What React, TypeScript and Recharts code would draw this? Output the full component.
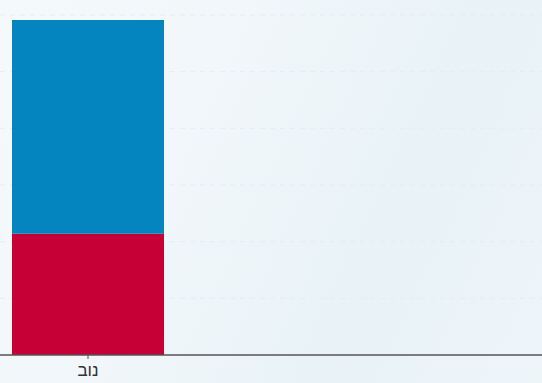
import React from 'react';
import { BarChart, Bar, XAxis, YAxis, CartesianGrid } from 'recharts';

const months = ['נוב'];
const redValues = [21.4];
const blueValues = [37.7];

const data = months.map((m, i) => ({ month: m, red: redValues[i], blue: blueValues[i] }));

export default function App() {
  return (
    <div
      style={{
        position: 'fixed',
        top: 0,
        left: 0,
        width: 542,
        height: 383,
        background: 'linear-gradient(115deg, #f6f9fb 0%, #f1f7fa 35%, #e8f2f7 70%, #eef5f9 100%)',
        fontFamily: '"Liberation Sans", Arial, sans-serif',
      }}
    >
      <BarChart
        width={542}
        height={383}
        data={data}
        margin={{ top: 15, right: 0, bottom: 0, left: 0 }}
        barCategoryGap={12}
      >
        <CartesianGrid vertical={false} stroke="#e3edf2" strokeDasharray="5 5" />
        <XAxis
          dataKey="month"
          height={28}
          padding={{ left: 0, right: 366 }}
          axisLine={{ stroke: '#555', strokeWidth: 1.5 }}
          tickLine={{ stroke: '#555' }}
          tickSize={4}
          tickMargin={5}
          tick={{ fill: '#333', fontSize: 17 }}
        />
        <YAxis hide domain={[0, 60]} ticks={[0, 10, 20, 30, 40, 50, 60]} />
        <Bar dataKey="red" stackId="a" fill="#c60036" isAnimationActive={false} />
        <Bar dataKey="blue" stackId="a" fill="#0585bf" isAnimationActive={false} />
      </BarChart>
    </div>
  );
}
